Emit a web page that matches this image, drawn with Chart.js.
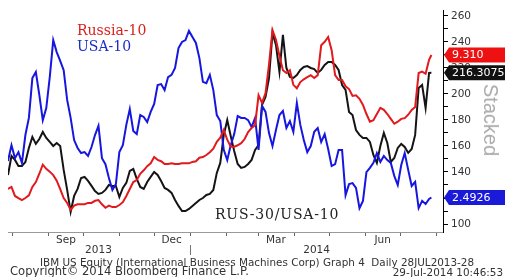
<!DOCTYPE html>
<html>
<head>
<meta charset="utf-8">
<script src="https://cdn.jsdelivr.net/npm/chart.js@4.4.1/dist/chart.umd.min.js"></script>
<style>
  html, body { margin: 0; padding: 0; background: #fff; }
  #wrap { position: relative; width: 505px; height: 277px; overflow: hidden; }
  #chart { position: absolute; left: 0; top: 0; }
  .lbl { position: absolute; white-space: pre; line-height: 14px; font: 14px "DejaVu Serif", serif; }
  .foot { position: absolute; white-space: pre; line-height: 1; color: #333; font-family: "DejaVu Sans", sans-serif; }
  #stacked { position: absolute; left: 491px; top: 120px; transform: translate(-50%, -50%) rotate(90deg);
             font: 20px "Liberation Sans", sans-serif; color: #aaa; white-space: pre; line-height: 1; }
</style>
</head>
<body>
<div id="wrap">
  <canvas id="chart" width="505" height="277"></canvas>
  <div class="lbl" style="left:77px;top:22px;color:#d9201c">Russia-10</div>
  <div class="lbl" style="left:77px;top:38px;color:#1c2cc4">USA-10</div>
  <div class="lbl" style="left:215px;top:206px;color:#222;letter-spacing:0.8px">RUS-30/USA-10</div>
  <div id="stacked">Stacked</div>
  <div class="foot" style="left:40px;top:257px;font-size:10.4px">IBM US Equity (International Business Machines Corp) Graph 4  Daily 28JUL2013-28</div>
  <div class="foot" style="left:10px;top:266px;font-size:11.6px">Copyright© 2014 Bloomberg Finance L.P.</div>
  <div class="foot" style="right:2px;top:267px;font-size:10.4px">29-Jul-2014 10:46:53</div>
</div>
<script>
// ---------- données (jours depuis le 28 juil. 2013, un relevé tous les 3 jours) ----------
const russia10 = [
  7.38, 7.41, 7.28, 7.25, 7.22, 7.25, 7.29, 7.41, 7.48, 7.60,
  7.73, 7.67, 7.63, 7.58, 7.50, 7.38, 7.25, 7.18, 7.08, 7.14,
  7.16, 7.16, 7.16, 7.18, 7.18, 7.21, 7.22, 7.16, 7.11, 7.14,
  7.12, 7.12, 7.15, 7.19, 7.28, 7.38, 7.48, 7.51, 7.60, 7.65,
  7.71, 7.75, 7.84, 7.80, 7.78, 7.74, 7.74, 7.75, 7.74, 7.74,
  7.75, 7.75, 7.75, 7.77, 7.78, 7.83, 7.84, 7.87, 7.91, 7.96,
  8.06, 8.12, 8.23, 8.09, 7.99, 7.99, 8.01, 8.04, 8.10, 8.20,
  8.26, 8.30, 8.73, 8.62, 8.76, 9.17, 9.67, 9.53, 9.30, 9.09,
  9.05, 9.09, 8.88, 8.83, 8.92, 8.96, 8.99, 9.02, 8.98, 9.02,
  9.45, 9.50, 9.57, 9.38, 9.02, 8.95, 8.95, 8.86, 8.82, 8.72,
  8.73, 8.68, 8.59, 8.46, 8.35, 8.37, 8.46, 8.55, 8.52, 8.46,
  8.39, 8.32, 8.35, 8.39, 8.40, 8.45, 8.52, 8.56, 9.05, 9.07,
  9.04, 9.24, 9.31
];
const usa10 = [
  2.608, 2.658, 2.617, 2.636, 2.602, 2.690, 2.744, 2.870, 2.889, 2.817,
  2.737, 2.775, 2.873, 2.990, 2.952, 2.924, 2.895, 2.801, 2.744, 2.674,
  2.649, 2.633, 2.636, 2.624, 2.652, 2.690, 2.719, 2.617, 2.598, 2.554,
  2.516, 2.535, 2.636, 2.658, 2.722, 2.772, 2.703, 2.693, 2.753, 2.747,
  2.731, 2.763, 2.788, 2.848, 2.851, 2.832, 2.873, 2.880, 2.902, 2.965,
  2.984, 2.990, 3.019, 3.000, 2.981, 2.933, 2.858, 2.854, 2.880, 2.832,
  2.753, 2.734, 2.643, 2.611, 2.658, 2.693, 2.750, 2.744, 2.744, 2.737,
  2.715, 2.744, 2.643, 2.782, 2.763, 2.696, 2.655, 2.706, 2.753, 2.766,
  2.712, 2.734, 2.700, 2.791, 2.722, 2.674, 2.636, 2.655, 2.700, 2.712,
  2.668, 2.693, 2.646, 2.592, 2.598, 2.643, 2.643, 2.500, 2.535, 2.538,
  2.523, 2.459, 2.482, 2.573, 2.586, 2.602, 2.633, 2.605, 2.624, 2.611,
  2.602, 2.561, 2.532, 2.595, 2.633, 2.580, 2.529, 2.542, 2.459, 2.482,
  2.472, 2.488, 2.4926
];
const rus30usa10 = [
  137.7, 152.3, 149.3, 144.7, 144.7, 147.7, 158.5, 167.0, 161.6, 165.4,
  170.8, 166.2, 163.1, 160.0, 162.3, 160.0, 141.6, 126.2, 109.3, 121.6,
  127.0, 135.4, 136.2, 133.1, 129.3, 125.4, 123.1, 123.9, 126.2, 130.0,
  129.3, 129.3, 120.8, 127.7, 131.6, 140.8, 142.3, 134.7, 128.5, 127.0,
  132.3, 136.2, 140.0, 137.7, 133.1, 127.7, 126.2, 123.9, 118.5, 113.9,
  110.0, 110.0, 111.6, 113.9, 116.2, 118.5, 120.0, 122.3, 123.1, 126.2,
  139.3, 147.0, 168.5, 180.0, 167.7, 156.2, 146.2, 143.1, 143.9, 146.2,
  149.3, 157.0, 160.8, 191.6, 197.7, 212.3, 247.0, 237.7, 216.9, 245.4,
  220.0, 213.1, 212.3, 214.6, 218.5, 220.8, 221.5, 220.0, 219.2, 216.2,
  218.5, 222.3, 224.6, 224.6, 222.3, 218.5, 206.9, 203.1, 186.2, 183.9,
  172.3, 168.5, 166.2, 166.2, 163.1, 153.1, 147.0, 160.0, 170.0, 162.3,
  147.7, 150.8, 158.5, 161.6, 159.3, 154.7, 157.7, 168.5, 204.6, 206.9,
  189.3, 216.2, 216.3075
];
const days = rus30usa10.map((_, i) => Math.min(i * 3, 365));

const monthStarts = [4, 35, 65, 96, 126, 157, 188, 216, 247, 277, 308, 338, 369];
const monthLabels = ["Sep", "Dec", "Mar", "Jun"];
const monthLabelDays = [50, 141, 231, 323];
const yearLabels = ["2013", "2014"];
const yearLabelDays = [78, 266];
const yearBreakDay = 157;
const yTicks = [100, 110, 120, 130, 140, 150, 160, 170, 180, 190, 200, 210, 220, 230, 240, 250, 260];

const RED = "#e2191d";
const BLUE = "#1616e0";
const BLACK = "#141414";
const tickFont = { family: "DejaVu Sans", size: 10.5, lineHeight: 1 };

const pairs = (vals) => vals.map((v, i) => ({ x: days[i], y: v }));

// ---------- étiquettes de dernière valeur ----------
const flagPlugin = {
  id: "flags",
  afterDraw(chart) {
    const ctx = chart.ctx;
    const left = chart.chartArea.right;
    chart.data.datasets.forEach((ds, i) => {
      const pts = chart.getDatasetMeta(i).data;
      const y = pts[pts.length - 1].y;
      ctx.save();
      ctx.fillStyle = ds.flagColor;
      ctx.beginPath();
      ctx.moveTo(left + 1, y);
      ctx.lineTo(left + 6, y - 7.5);
      ctx.lineTo(chart.width, y - 7.5);
      ctx.lineTo(chart.width, y + 7.5);
      ctx.lineTo(left + 6, y + 7.5);
      ctx.closePath();
      ctx.fill();
      ctx.fillStyle = "#fff";
      ctx.font = '11px "DejaVu Sans"';
      ctx.textBaseline = "middle";
      ctx.fillText(ds.flagText, left + 9, y + 0.5);
      ctx.restore();
    });
  },
};

const yearBreak = {
  id: "yearBreak",
  afterDraw(chart) {
    const ctx = chart.ctx;
    const sy = chart.scales.xYear;
    const px = Math.round(chart.scales.x.getPixelForValue(yearBreakDay)) + 0.5;
    ctx.save();
    ctx.strokeStyle = "#777";
    ctx.lineWidth = 1;
    ctx.beginPath();
    ctx.moveTo(px, sy.top);
    ctx.lineTo(px, sy.bottom - 2);
    ctx.stroke();
    ctx.restore();
  },
};

const bottomAxis = (weight, values, labels, height) => ({
  type: "linear", position: "bottom", min: 0, max: 375, weight,
  afterBuildTicks: (s) => { s.ticks = values.map((v) => ({ value: v })); },
  ticks: { autoSkip: false, maxRotation: 0, padding: 0, color: "#333", font: tickFont,
           callback: (v, i) => labels[i] },
  grid: { display: false, drawTicks: false },
  border: { display: false },
  afterFit: (s) => { s.height = height; },
});

new Chart(document.getElementById("chart"), {
  type: "line",
  data: {
    datasets: [
      { label: "Russia-10", data: pairs(russia10), borderColor: RED, yAxisID: "yRus", order: 0,
        flagColor: "#ee1111", flagText: russia10[russia10.length - 1].toFixed(3) },
      { label: "USA-10", data: pairs(usa10), borderColor: BLUE, yAxisID: "yUsa", order: 1,
        flagColor: "#1a1ad8", flagText: usa10[usa10.length - 1].toFixed(4) },
      { label: "RUS-30/USA-10", data: pairs(rus30usa10), borderColor: BLACK, yAxisID: "y", order: 2,
        flagColor: "#111", flagText: rus30usa10[rus30usa10.length - 1].toFixed(4) },
    ],
  },
  options: {
    responsive: false,
    animation: false,
    layout: { padding: { left: 8, top: 10, right: 0, bottom: 20 } },
    elements: { point: { radius: 0 }, line: { borderWidth: 2, tension: 0 } },
    plugins: { legend: { display: false }, tooltip: { enabled: false } },
    scales: {
      x: {
        type: "linear", position: "bottom", min: 0, max: 375, weight: 0,
        afterBuildTicks: (s) => { s.ticks = monthStarts.map((v) => ({ value: v })); },
        ticks: { display: false },
        grid: { drawOnChartArea: false, drawTicks: true, tickLength: 4, color: "#666" },
        border: { color: "#999", width: 1 },
        afterFit: (s) => { s.height = 3; },
      },
      xMonth: bottomAxis(1, monthLabelDays, monthLabels, 10),
      xYear: bottomAxis(2, yearLabelDays, yearLabels, 12),
      y: {
        type: "linear", position: "right", min: 93.85, max: 264.6,
        afterBuildTicks: (s) => { s.ticks = yTicks.map((v) => ({ value: v })); },
        ticks: { autoSkip: false, padding: 3, color: "#333", font: tickFont,
                 callback: (v) => (v % 20 === 0 ? String(v) : "") },
        grid: { drawOnChartArea: false, drawTicks: true, tickLength: 5, color: "#000" },
        border: { color: "#000", width: 1 },
        afterFit: (s) => { s.width = 62; },
      },
      yRus: { type: "linear", display: false, min: 6.761, max: 9.958 },
      yUsa: { type: "linear", display: false, min: 2.3836, max: 3.085 },
    },
  },
  plugins: [flagPlugin, yearBreak],
});
</script>
</body>
</html>
